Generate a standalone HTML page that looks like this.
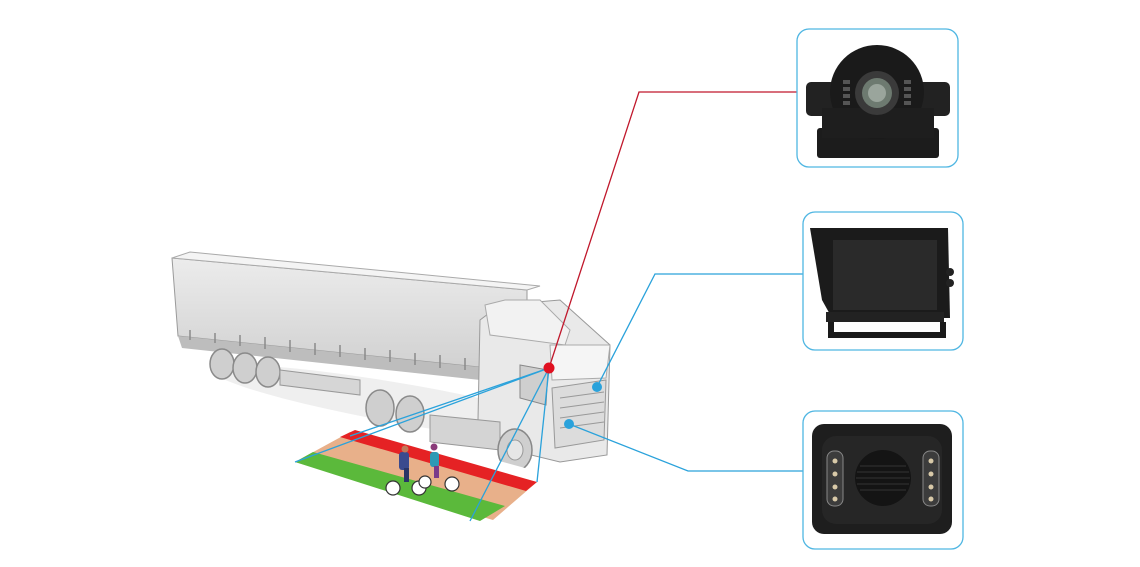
<!DOCTYPE html>
<html><head><meta charset="utf-8"><style>
html,body{margin:0;padding:0;background:#fff;}
body{width:1140px;height:567px;overflow:hidden;position:relative;font-family:"Liberation Sans",sans-serif;}
svg{position:absolute;left:0;top:0;}
</style></head><body>
<svg width="1140" height="567" viewBox="0 0 1140 567">
<defs>
<linearGradient id="tr" x1="0" y1="0" x2="0" y2="1"><stop offset="0" stop-color="#ececec"/><stop offset="1" stop-color="#d0d0d0"/></linearGradient>
</defs>
<!-- shadow -->
<ellipse cx="410" cy="405" rx="200" ry="20" fill="#efefef" transform="rotate(10 410 405)"/>
<!-- trailer -->
<polygon points="172,258 527,290 527,372 178,336" fill="url(#tr)" stroke="#9a9a9a" stroke-width="1"/>
<polygon points="172,258 190,252 540,286 527,290" fill="#f4f4f4" stroke="#aaa" stroke-width="1"/>
<polygon points="178,336 527,372 527,385 182,348" fill="#bdbdbd"/>
<g stroke="#8a8a8a" stroke-width="1.5">
<line x1="190" y1="330" x2="190" y2="340"/><line x1="215" y1="333" x2="215" y2="343"/><line x1="240" y1="335" x2="240" y2="346"/><line x1="265" y1="337" x2="265" y2="349"/><line x1="290" y1="340" x2="290" y2="352"/><line x1="315" y1="343" x2="315" y2="355"/><line x1="340" y1="345" x2="340" y2="357"/><line x1="365" y1="348" x2="365" y2="360"/><line x1="390" y1="350" x2="390" y2="362"/><line x1="415" y1="353" x2="415" y2="365"/><line x1="440" y1="355" x2="440" y2="368"/><line x1="465" y1="358" x2="465" y2="370"/><line x1="490" y1="361" x2="490" y2="373"/>
</g>
<g fill="#cfcfcf" stroke="#8a8a8a" stroke-width="1.5">
<ellipse cx="222" cy="364" rx="12" ry="15"/><ellipse cx="245" cy="368" rx="12" ry="15"/><ellipse cx="268" cy="372" rx="12" ry="15"/>
<ellipse cx="380" cy="408" rx="14" ry="18"/><ellipse cx="410" cy="414" rx="14" ry="18"/>
</g>
<polygon points="280,370 360,380 360,395 280,385" fill="#d6d6d6" stroke="#999"/>
<!-- cab -->
<polygon points="480,320 500,305 560,300 610,345 607,455 560,462 490,445 478,420" fill="#e9e9e9" stroke="#999" stroke-width="1"/>
<polygon points="485,305 505,300 540,300 570,330 565,345 490,335" fill="#f2f2f2" stroke="#aaa"/>
<polygon points="550,345 610,345 606,378 552,380" fill="#f5f5f5" stroke="#aaa"/>
<polygon points="552,388 606,380 604,440 555,448" fill="#dcdcdc" stroke="#999"/>
<g stroke="#999" stroke-width="1"><line x1="560" y1="398" x2="604" y2="392"/><line x1="560" y1="408" x2="604" y2="402"/><line x1="560" y1="418" x2="604" y2="412"/><line x1="560" y1="428" x2="604" y2="422"/></g>
<polygon points="520,365 548,370 546,405 520,398" fill="#cfcfcf" stroke="#888"/>
<polygon points="430,415 500,422 500,450 430,442" fill="#d4d4d4" stroke="#999"/>
<ellipse cx="515" cy="450" rx="17" ry="21" fill="#cfcfcf" stroke="#888" stroke-width="1.5"/>
<ellipse cx="515" cy="450" rx="8" ry="10" fill="#e6e6e6" stroke="#999"/>
<!-- ground zones -->
<polygon points="295,462 350,432 537,482 493,520" fill="#e8b08a"/>
<polygon points="350,432 364,424 547,474 537,482" fill="#fff"/>
<polygon points="340,437 355,430 537,482 526,491" fill="#e52224"/>
<polygon points="295,462 313,452 505,506 480,521" fill="#5bb93b"/>
<!-- cyclists -->
<g stroke="#333" stroke-width="1.2" fill="#fff">
<circle cx="393" cy="488" r="7"/><circle cx="419" cy="488" r="7"/><circle cx="425" cy="482" r="6"/><circle cx="452" cy="484" r="7"/>
</g>
<rect x="399" y="452" width="10" height="18" rx="3" fill="#3b4a8e"/><circle cx="405" cy="449" r="3.5" fill="#c0795a"/>
<rect x="430" y="452" width="9" height="15" rx="3" fill="#2d9ab5"/><circle cx="434" cy="447" r="3.5" fill="#8a3b7a"/>
<rect x="404" y="468" width="5" height="14" fill="#2a3566"/><rect x="434" y="466" width="5" height="12" fill="#7a3a8a"/>
<!-- connector lines -->
<g fill="none" stroke-width="1.3" stroke="#2aa2db">
<line x1="549" y1="368" x2="295" y2="462"/><line x1="549" y1="368" x2="350" y2="436"/>
<line x1="549" y1="368" x2="470" y2="521"/><line x1="549" y1="368" x2="537" y2="482"/>
<polyline points="597,387 655,274 803,274"/>
<polyline points="569,424 688,471 803,471"/>
</g>
<polyline points="549,368 639,92 797,92" fill="none" stroke="#c0182c" stroke-width="1.3"/>
<circle cx="549" cy="368" r="5.5" fill="#e01020"/>
<circle cx="597" cy="387" r="5" fill="#2aa2db"/>
<circle cx="569" cy="424" r="5" fill="#2aa2db"/>
<!-- boxes -->
<g fill="#fff" stroke="#4fb6e2" stroke-width="1.3">
<rect x="797" y="29" width="161" height="138" rx="12"/>
<rect x="803" y="212" width="160" height="138" rx="12"/>
<rect x="803" y="411" width="160" height="138" rx="12"/>
</g>
<!-- camera -->
<rect x="817" y="128" width="122" height="30" rx="3" fill="#1c1c1c"/>
<rect x="806" y="82" width="144" height="34" rx="5" fill="#222"/>
<circle cx="877" cy="92" r="47" fill="#1a1a1a"/>
<rect x="822" y="108" width="112" height="30" fill="#1e1e1e"/>
<circle cx="877" cy="93" r="22" fill="#3a3a3a"/>
<circle cx="877" cy="93" r="15" fill="#6d7a70"/>
<circle cx="877" cy="93" r="9" fill="#9aa59c"/>
<g fill="#555"><rect x="843" y="80" width="7" height="4"/><rect x="843" y="87" width="7" height="4"/><rect x="843" y="94" width="7" height="4"/><rect x="843" y="101" width="7" height="4"/><rect x="904" y="80" width="7" height="4"/><rect x="904" y="87" width="7" height="4"/><rect x="904" y="94" width="7" height="4"/><rect x="904" y="101" width="7" height="4"/></g>
<!-- monitor -->
<polygon points="810,228 948,228 950,318 832,318 822,300" fill="#1b1b1b"/>
<rect x="833" y="240" width="104" height="70" fill="#2a2a2a"/>
<rect x="826" y="312" width="118" height="10" fill="#222"/>
<polygon points="828,322 834,322 834,332 940,332 940,322 946,322 946,338 828,338" fill="#1a1a1a"/>
<circle cx="950" cy="272" r="4" fill="#222"/><circle cx="950" cy="283" r="4" fill="#222"/>
<!-- speaker box -->
<rect x="812" y="424" width="140" height="110" rx="12" fill="#1e1e1e"/>
<rect x="822" y="436" width="120" height="88" rx="14" fill="#262626"/>
<circle cx="883" cy="478" r="28" fill="#141414"/>
<g stroke="#333" stroke-width="1"><line x1="860" y1="466" x2="906" y2="466"/><line x1="857" y1="472" x2="909" y2="472"/><line x1="856" y1="478" x2="910" y2="478"/><line x1="857" y1="484" x2="909" y2="484"/><line x1="860" y1="490" x2="906" y2="490"/></g>
<rect x="827" y="451" width="16" height="55" rx="7" fill="#3c3c3c" stroke="#888"/>
<rect x="923" y="451" width="16" height="55" rx="7" fill="#3c3c3c" stroke="#888"/>
<g fill="#d8c9a8"><circle cx="835" cy="461" r="2.5"/><circle cx="835" cy="474" r="2.5"/><circle cx="835" cy="487" r="2.5"/><circle cx="835" cy="499" r="2.5"/><circle cx="931" cy="461" r="2.5"/><circle cx="931" cy="474" r="2.5"/><circle cx="931" cy="487" r="2.5"/><circle cx="931" cy="499" r="2.5"/></g>
</svg>
</body></html>
